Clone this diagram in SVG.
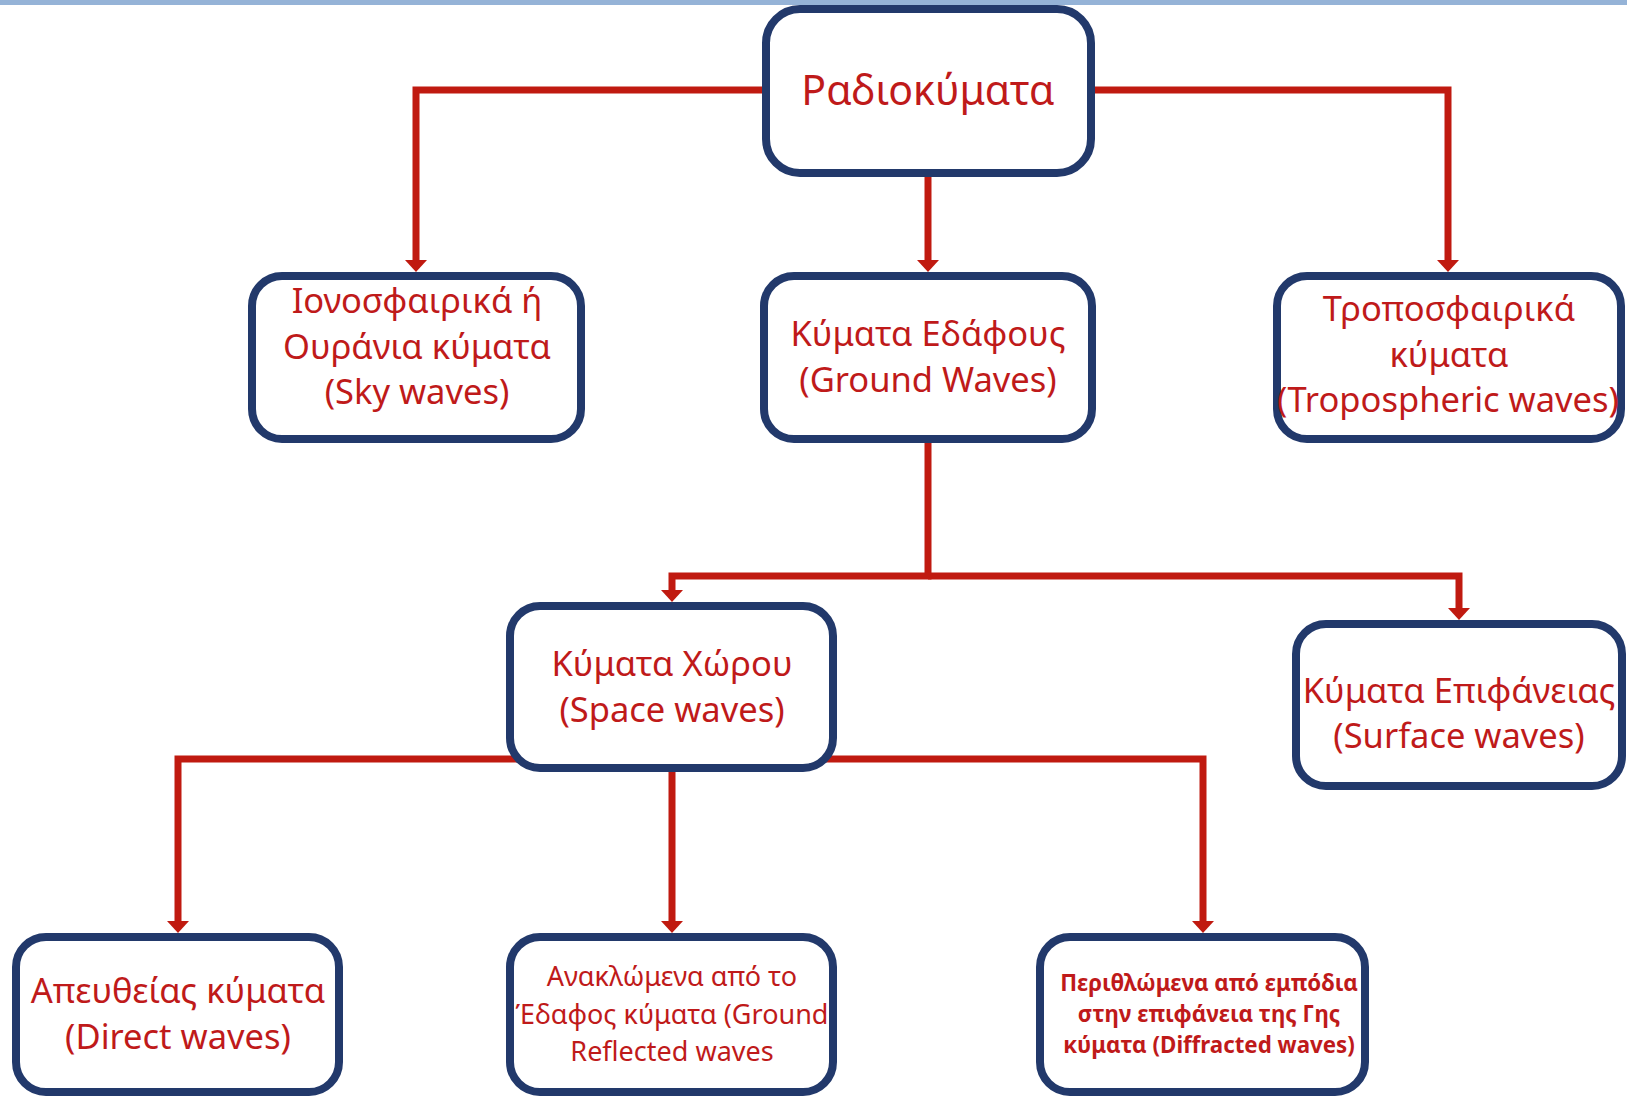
<svg xmlns="http://www.w3.org/2000/svg" width="1630" height="1097" viewBox="0 0 1630 1097">
<style>
.box{fill:#ffffff;stroke:#22396B;stroke-width:8}
.con{fill:none;stroke:#C01A10;stroke-width:7;stroke-linejoin:miter;marker-end:url(#arr)}
.t{font-family:"Noto Sans","Open Sans","DejaVu Sans",sans-serif;fill:#BF1A1A;text-anchor:middle}
.big{font-size:41px}
.mid{font-size:34.5px}
.sm{font-size:27px}
.sb{font-size:22.3px;font-weight:bold}
</style>
<defs>
<marker id="arr" markerUnits="userSpaceOnUse" markerWidth="14" markerHeight="26" viewBox="0 -13 14 26" refX="0" refY="0" orient="auto">
<path d="M0,-11 L12,0 L0,11 z" fill="#C01A10"/>
</marker>
</defs>
<rect x="0" y="0" width="1630" height="1097" fill="#ffffff"/>
<g id="connectors">
<path class="con" d="M762,90 H416 V260"/>
<path class="con" d="M928,177 V260"/>
<path class="con" d="M1095,90 H1448 V260"/>
<path class="con" d="M928,443 V576 H672 V590"/>
<path class="con" d="M928,576 H1459 V608"/>
<path class="con" d="M517,759 H178 V921"/>
<path class="con" d="M672,772 V921"/>
<path class="con" d="M823,759 H1203 V921"/>
</g>
<g id="root">
<rect class="box" x="766" y="9" width="325" height="164" rx="34"/>
<text class="t big" x="928" y="105">Ραδιοκύματα</text>
</g>
<g id="sky">
<rect class="box" x="252" y="276" width="329" height="163" rx="30"/>
<text class="t mid" x="417" y="313">Ιονοσφαιρικά ή</text>
<text class="t mid" x="417" y="359">Ουράνια κύματα</text>
<text class="t mid" x="417" y="404">(Sky waves)</text>
</g>
<g id="ground">
<rect class="box" x="764" y="276" width="328" height="163" rx="30"/>
<text class="t mid" x="928" y="346">Κύματα Εδάφους</text>
<text class="t mid" x="928" y="392">(Ground Waves)</text>
</g>
<g id="tropo">
<rect class="box" x="1277" y="276" width="344" height="163" rx="30"/>
<text class="t mid" x="1449" y="321">Τροποσφαιρικά</text>
<text class="t mid" x="1449" y="367">κύματα</text>
<text class="t mid" x="1448" y="412">(Tropospheric waves)</text>
</g>
<g id="space">
<rect class="box" x="510" y="606" width="323" height="162" rx="30"/>
<text class="t mid" x="672" y="676">Κύματα Χώρου</text>
<text class="t mid" x="672" y="722">(Space waves)</text>
</g>
<g id="surface">
<rect class="box" x="1296" y="624" width="326" height="162" rx="30"/>
<text class="t mid" x="1459" y="703">Κύματα Επιφάνειας</text>
<text class="t mid" x="1459" y="748">(Surface waves)</text>
</g>
<g id="direct">
<rect class="box" x="16" y="937" width="323" height="155" rx="30"/>
<text class="t mid" x="178" y="1003">Απευθείας κύματα</text>
<text class="t mid" x="178" y="1049">(Direct waves)</text>
</g>
<g id="reflected">
<rect class="box" x="510" y="937" width="323" height="155" rx="30"/>
<text class="t sm" x="672" y="986">Ανακλώμενα από το</text>
<text class="t sm" x="672" y="1024">Έδαφος κύματα (Ground</text>
<text class="t sm" x="672" y="1061">Reflected waves</text>
</g>
<g id="diffracted">
<rect class="box" x="1040" y="937" width="325" height="155" rx="30"/>
<text class="t sb" x="1209" y="991">Περιθλώμενα από εμπόδια</text>
<text class="t sb" x="1209" y="1022">στην επιφάνεια της Γης</text>
<text class="t sb" x="1209" y="1053">κύματα (Diffracted waves)</text>
</g>
<rect x="0" y="0" width="1627" height="5" fill="#95B3D7"/>
</svg>
